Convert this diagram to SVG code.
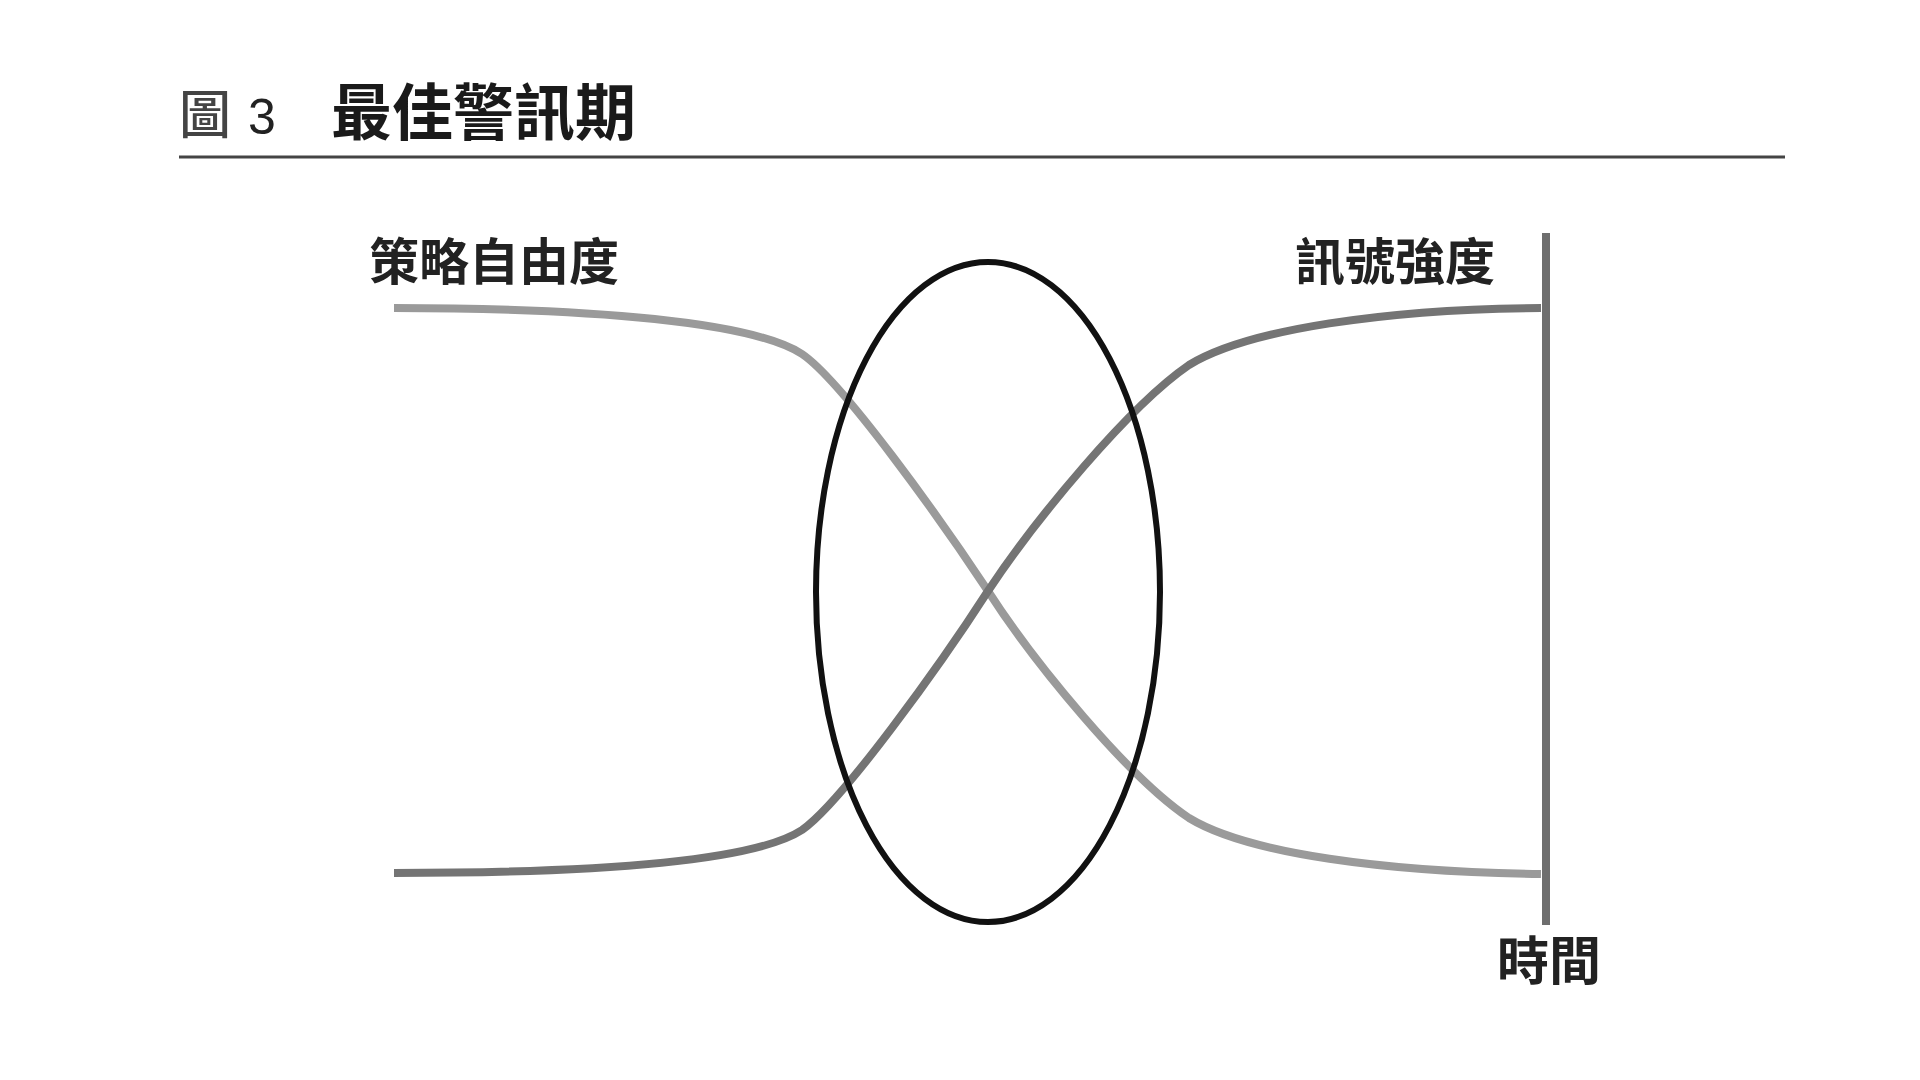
<svg xmlns="http://www.w3.org/2000/svg" width="1920" height="1080" viewBox="0 0 1920 1080">
<style>
.cjk{font-family:"Noto Sans CJK TC","Noto Sans CJK SC","Noto Sans CJK JP",sans-serif;}
.title{font-size:61px;font-weight:700;fill:#1a1a1a;}
.fig{font-size:52px;font-weight:500;fill:#444;}
.num{font-family:"Liberation Sans",Arial,sans-serif;font-size:50px;fill:#222;}
.label{font-size:50px;font-weight:700;fill:#222;}
.curve{fill:none;stroke-width:8;stroke-linecap:butt;stroke-linejoin:round;}
</style>
<rect width="1920" height="1080" fill="#ffffff"/>
<g id="title">
<text class="cjk fig" x="179" y="134">圖</text>
<text class="num" x="248" y="134">3</text>
<text class="cjk title" x="331" y="135">最佳警訊期</text>
<line x1="179" y1="157" x2="1785" y2="157" stroke="#444" stroke-width="3"/>
</g>
<g id="connectors">
<path id="curve-strategy" class="curve" stroke="#9a9a9a" d="M394,308 C594,308 753,322 802,354 C842,381 941,520 988,591 C1035,664 1129,778 1189,818 C1248,854 1387,872 1541,874"/>
<path id="curve-signal" class="curve" stroke="#747474" d="M394,873 C594,873 753,862 802,830 C842,802 941,664 988,591 C1035,520 1129,406 1189,365 C1248,329 1387,309 1541,308"/>
</g>
<g id="axis-time">
<line x1="1546" y1="233" x2="1546" y2="925" stroke="#6e6e6e" stroke-width="8"/>
</g>
<g id="optimal-period">
<ellipse cx="988" cy="592" rx="172" ry="330" fill="none" stroke="#111" stroke-width="6"/>
</g>
<g id="label-strategy">
<text class="cjk label" x="369" y="280">策略自由度</text>
</g>
<g id="label-signal">
<text class="cjk label" x="1295" y="280">訊號強度</text>
</g>
<g id="label-time">
<text class="cjk label" style="font-size:52px" x="1497" y="980">時間</text>
</g>
</svg>
